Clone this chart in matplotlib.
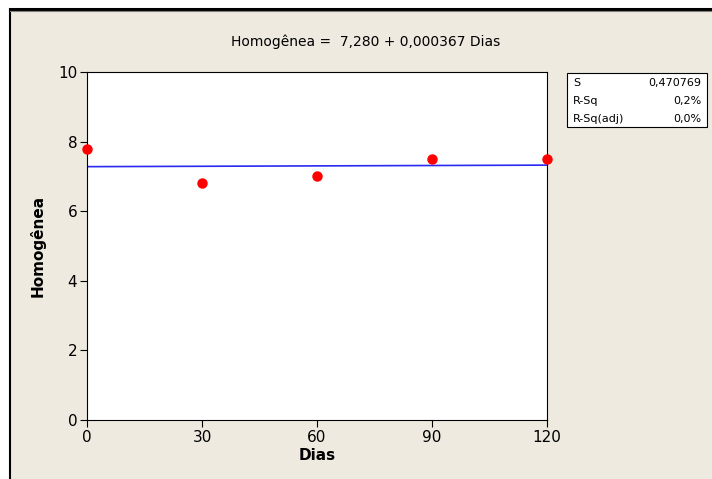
import numpy as np
import matplotlib.pyplot as plt
from matplotlib.patches import Rectangle
from matplotlib.lines import Line2D

# dados do ensaio
dias = [0, 30, 60, 90, 120]
homogenea = [7.8, 6.8, 7.0, 7.5, 7.5]

# ajuste linear reportado
b0, b1 = 7.280, 0.000367
stats_labels = ['S', 'R-Sq', 'R-Sq(adj)']
stats_values = ['0,470769', '0,2%', '0,0%']

bg = '#EEEAE0'
fig = plt.figure(figsize=(7.12, 4.79), dpi=100)
fig.patch.set_facecolor('white')

# moldura da janela
fig.add_artist(Rectangle((11 / 712, 0), 701 / 712, 1 - 11 / 479,
                         transform=fig.transFigure, facecolor=bg, edgecolor='none', zorder=0))
fig.add_artist(Line2D([10 / 712, 10 / 712], [0, 1 - 10 / 479],
                      transform=fig.transFigure, color='black', lw=1.5))
fig.add_artist(Line2D([10 / 712, 1], [1 - 9 / 479, 1 - 9 / 479],
                      transform=fig.transFigure, color='black', lw=2.2))
fig.add_artist(Line2D([10 / 712, 1], [1 - 11 / 479, 1 - 11 / 479],
                      transform=fig.transFigure, color='#808080', lw=0.8))

ax = fig.add_axes([87 / 712, 59 / 479, 460 / 712, 348 / 479])
ax.set_facecolor('white')

xs = np.array([0, 120])
ax.plot(xs, b0 + b1 * xs, color='#2a2af0', lw=1.2, zorder=2)
ax.plot(dias, homogenea, 'o', color='#ff0000', ms=6.5, clip_on=False, zorder=3)

ax.set_xlim(0, 120)
ax.set_ylim(0, 10)
ax.set_xticks([0, 30, 60, 90, 120])
ax.set_yticks([0, 2, 4, 6, 8, 10])
ax.tick_params(direction='out', length=5, width=0.8, labelsize=11, pad=2)
for s in ax.spines.values():
    s.set_linewidth(0.8)

ax.set_xlabel('Dias', fontsize=11, fontweight='bold', labelpad=2)
ax.set_ylabel('Homogênea', fontsize=11, fontweight='bold', labelpad=9)

fig.text(366 / 712, 1 - 42 / 479, 'Homogênea =  7,280 + 0,000367 Dias',
         ha='center', va='center', fontsize=10)

# caixa com as estatisticas do modelo
bx0, by0, bw, bh = 567 / 712, 1 - 127 / 479, 140 / 712, 54 / 479
fig.add_artist(Rectangle((bx0, by0), bw, bh, transform=fig.transFigure,
                         facecolor='white', edgecolor='black', lw=0.8))
for i, (lab, val) in enumerate(zip(stats_labels, stats_values)):
    y = 1 - (83 + i * 18) / 479
    fig.text(573 / 712, y, lab, ha='left', va='center', fontsize=8)
    fig.text(701 / 712, y, val, ha='right', va='center', fontsize=8)

fig.savefig('out.png', dpi=100, facecolor=fig.get_facecolor())
